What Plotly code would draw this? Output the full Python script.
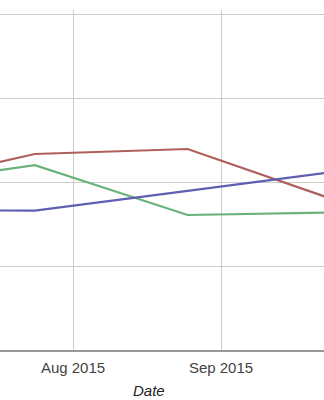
import plotly.graph_objects as go

dates = ["2015-06-22", "2015-07-24", "2015-08-25", "2015-09-26"]
red_vals = [48.1, 58.5, 60.0, 44.2]
green_vals = [48.7, 55.2, 40.3, 41.1]
blue_vals = [41.8, 41.6, 47.5, 53.4]

tick_vals = ["2015-08-01", "2015-09-01"]
tick_text = ["Aug 2015", "Sep 2015"]
x_range = ["2015-07-16 17:00", "2015-09-22 13:40"]

series = [
    ("Red", red_vals, "#b0605c"),
    ("Green", green_vals, "#6ab27a"),
    ("Blue", blue_vals, "#5f5fb2"),
]

fig = go.Figure()
for name, vals, color in series:
    fig.add_trace(go.Scatter(x=dates, y=vals, mode="lines", name=name,
                             line=dict(color=color, width=2.2), hoverinfo="skip"))

fig.update_layout(
    width=324, height=400,
    margin=dict(l=0, r=0, t=10, b=50),
    paper_bgcolor="white", plot_bgcolor="white",
    showlegend=False,
    font=dict(family="Liberation Sans, Arial", size=15, color="#444"),
)
fig.update_xaxes(
    range=x_range, tickvals=tick_vals, ticktext=tick_text,
    showgrid=True, gridcolor="#cccccc", gridwidth=1,
    showline=True, linecolor="#999999", linewidth=1.5,
    ticks="", zeroline=False, tickfont=dict(size=15, color="#444"),
    ticklabelstandoff=3,
)
fig.update_yaxes(
    range=[0, 101.49], tickvals=[0, 25, 50, 75, 100], showticklabels=False,
    showgrid=True, gridcolor="#cccccc", gridwidth=1, zeroline=False,
)
fig.add_annotation(text="<i>Date</i>", xref="paper", yref="paper",
                   x=149 / 324, y=-40 / 340, showarrow=False,
                   font=dict(size=15, color="#222"), yanchor="middle")

fig.write_html("out.html")
